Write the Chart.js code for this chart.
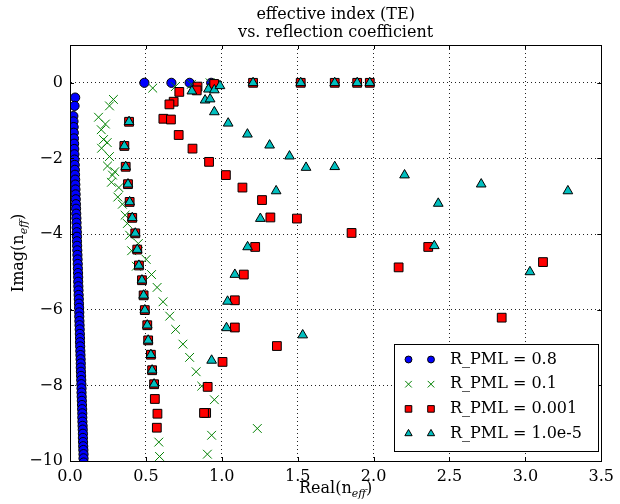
<!DOCTYPE html>
<html>
<head>
<meta charset="utf-8">
<script src="https://cdn.jsdelivr.net/npm/chart.js@4/dist/chart.umd.min.js"></script>
<style>
  html, body { margin: 0; padding: 0; background: #fff; }
  canvas { display: block; }
</style>
</head>
<body>
<canvas id="neff" width="620" height="504"></canvas>
<script>
// effective index eigenvalues for four PML reflection coefficients
const seriesLabels = ["R_PML = 0.8", "R_PML = 0.1", "R_PML = 0.001", "R_PML = 1.0e-5"];
const titleLines = ["effective index (TE)", "vs. reflection coefficient"];
const xTicks = [0, 0.5, 1, 1.5, 2, 2.5, 3, 3.5];
const yTicks = [-10, -8, -6, -4, -2, 0];

const real08 = [0.49, 0.668, 0.788, 0.93, 0.034, 0.030,
  0.022, 0.023, 0.024, 0.025, 0.026, 0.027, 0.028, 0.029, 0.030, 0.031,
  0.032, 0.033, 0.034, 0.035, 0.036, 0.037, 0.038, 0.039, 0.040, 0.041,
  0.042, 0.043, 0.044, 0.045, 0.046, 0.046, 0.047, 0.048, 0.049, 0.050,
  0.051, 0.052, 0.053, 0.054, 0.054, 0.055, 0.056, 0.057, 0.058, 0.059,
  0.060, 0.061, 0.061, 0.062, 0.063, 0.064, 0.065, 0.066, 0.066, 0.067,
  0.068, 0.069, 0.070, 0.071, 0.071, 0.072, 0.073, 0.074, 0.075, 0.076,
  0.076, 0.077, 0.078, 0.079, 0.080, 0.081, 0.081, 0.082, 0.083, 0.084,
  0.085, 0.085, 0.086, 0.087, 0.088, 0.089, 0.089, 0.090];
const imag08 = [0, 0, 0, 0, -0.39, -0.61,
  -0.88, -1.02, -1.17, -1.32, -1.47, -1.61, -1.75, -1.89, -2.03, -2.17,
  -2.30, -2.43, -2.56, -2.69, -2.82, -2.95, -3.08, -3.21, -3.33, -3.46,
  -3.58, -3.70, -3.83, -3.95, -4.07, -4.19, -4.31, -4.43, -4.55, -4.67,
  -4.79, -4.91, -5.03, -5.14, -5.26, -5.38, -5.49, -5.61, -5.72, -5.84,
  -5.95, -6.07, -6.18, -6.30, -6.41, -6.52, -6.64, -6.75, -6.86, -6.97,
  -7.09, -7.20, -7.31, -7.42, -7.53, -7.64, -7.75, -7.86, -7.97, -8.08,
  -8.19, -8.30, -8.41, -8.52, -8.63, -8.74, -8.85, -8.96, -9.07, -9.17,
  -9.28, -9.39, -9.50, -9.61, -9.71, -9.82, -9.93, -10.04];

const real01 = [0.545, 0.694, 0.80, 0.923,
  0.286, 0.26, 0.188, 0.233, 0.206, 0.221, 0.245, 0.208, 0.26, 0.247,
  0.295, 0.28, 0.273, 0.322, 0.315, 0.345, 0.363, 0.378, 0.393, 0.45,
  0.406, 0.502, 0.437, 0.537, 0.574, 0.613, 0.657, 0.696, 0.744, 0.788,
  0.831, 0.868, 0.951, 1.234, 0.933, 0.585, 0.59, 0.905];
const imag01 = [-0.14, -0.1, -0.04, 0,
  -0.44, -0.61, -0.91, -1.09, -1.24, -1.5, -1.58, -1.73, -1.95, -2.2,
  -2.35, -2.44, -2.63, -2.77, -3.02, -3.21, -3.5, -3.72, -4.03, -4.25,
  -4.44, -4.67, -4.85, -5.07, -5.41, -5.79, -6.17, -6.52, -6.91, -7.26,
  -7.64, -8.02, -8.38, -9.14, -9.32, -9.5, -9.88, -9.82];

const real0001 = [0.72, 0.84, 0.835, 0.95, 1.206, 1.52, 1.744, 1.892, 1.975,
  0.683, 0.655, 0.615, 0.665, 0.716, 0.807, 0.916, 1.027, 1.136, 1.265,
  1.32, 1.495, 1.855, 1.22, 2.36, 2.165, 3.116, 2.844, 1.145, 1.086,
  1.086, 1.363, 1.005, 0.907, 0.897, 0.883,
  0.389, 0.358, 0.367, 0.382, 0.393, 0.41, 0.43, 0.443, 0.454, 0.474,
  0.485, 0.493, 0.509, 0.515, 0.533, 0.541, 0.554, 0.559, 0.576, 0.572];
const imag0001 = [-0.24, -0.1, -0.2, -0.03, 0, 0, 0, 0, 0,
  -0.5, -0.57, -0.95, -0.97, -1.38, -1.74, -2.09, -2.44, -2.77, -3.1,
  -3.56, -3.59, -3.97, -4.34, -4.34, -4.88, -4.74, -6.21, -5.07, -5.75,
  -6.47, -6.96, -7.38, -8.04, -8.73, -8.73,
  -1.03, -1.67, -2.22, -2.68, -3.15, -3.57, -3.98, -4.41, -4.83, -5.22,
  -5.62, -6.01, -6.41, -6.81, -7.19, -7.6, -7.97, -8.36, -8.75, -9.12];

const real1e5 = [0.803, 0.912, 0.951, 0.988, 0.89, 0.923, 0.951, 1.042, 1.169,
  1.206, 1.52, 1.744, 1.892, 1.975,
  1.315, 1.446, 1.555, 1.744, 2.204, 1.358, 1.254, 2.426, 2.709, 3.28,
  2.40, 3.03, 1.17, 1.086, 1.038, 1.031, 1.533, 0.933,
  0.389, 0.358, 0.367, 0.382, 0.393, 0.41, 0.43, 0.443, 0.454, 0.474,
  0.485, 0.493, 0.509, 0.515, 0.533, 0.541, 0.554];
const imag1e5 = [-0.22, -0.17, -0.19, -0.08, -0.46, -0.43, -0.77, -1.07, -1.36,
  0, 0, 0, 0, 0,
  -1.65, -1.94, -2.24, -2.22, -2.44, -2.86, -3.59, -3.19, -2.68, -2.86,
  -4.31, -5.0, -4.34, -5.07, -5.78, -6.48, -6.67, -7.34,
  -1.03, -1.67, -2.22, -2.68, -3.15, -3.57, -3.98, -4.41, -4.83, -5.22,
  -5.62, -6.01, -6.41, -6.81, -7.19, -7.6, -7.97];

const toPoints = (xs, ys) => xs.map((x, i) => ({ x, y: ys[i] }));
const SERIF = '"DejaVu Serif", "Liberation Serif", serif';

const markers = [
  { pointStyle: "circle", radius: 4.6, fill: "#0000ff", edge: "#000000" },
  { pointStyle: "crossRot", radius: 6.2, fill: "#008000", edge: "#008000" },
  { pointStyle: "rect", radius: 6.2, fill: "#ff0000", edge: "#000000" },
  { pointStyle: "triangle", radius: 5.6, fill: "#00bfbf", edge: "#000000" },
];
const seriesData = [
  toPoints(real08, imag08),
  toPoints(real01, imag01),
  toPoints(real0001, imag0001),
  toPoints(real1e5, imag1e5),
];

// frame, inward ticks, titles with subscripts, and the boxed legend
const decorations = {
  id: "decorations",
  afterDraw(chart) {
    const { ctx, chartArea: a, scales } = chart;
    ctx.save();
    ctx.strokeStyle = "#000";
    ctx.lineWidth = 1;
    ctx.beginPath();
    scales.x.ticks.forEach(t => {
      const px = Math.round(scales.x.getPixelForValue(t.value)) + 0.5;
      ctx.moveTo(px, a.bottom); ctx.lineTo(px, a.bottom - 4);
      ctx.moveTo(px, a.top); ctx.lineTo(px, a.top + 4);
    });
    scales.y.ticks.forEach(t => {
      const py = Math.round(scales.y.getPixelForValue(t.value)) + 0.5;
      ctx.moveTo(a.left, py); ctx.lineTo(a.left + 4, py);
      ctx.moveTo(a.right, py); ctx.lineTo(a.right - 4, py);
    });
    ctx.stroke();
    ctx.strokeRect(Math.round(a.left) + 0.5, Math.round(a.top) + 0.5,
      Math.round(a.right - a.left), Math.round(a.bottom - a.top));

    const cx = (a.left + a.right) / 2;
    ctx.fillStyle = "#000";
    ctx.font = "16px " + SERIF;
    ctx.textAlign = "center";
    ctx.textBaseline = "alphabetic";
    ctx.fillText(titleLines[0], cx, 19);
    ctx.fillText(titleLines[1], cx, 37);

    // axis label with subscripted "eff"
    const subLabel = (pre, x, y) => {
      ctx.font = "16px " + SERIF;
      const w1 = ctx.measureText(pre).width;
      const w3 = ctx.measureText(")").width;
      ctx.font = "italic 11px " + SERIF;
      const w2 = ctx.measureText("eff").width;
      const start = x - (w1 + w2 + w3) / 2;
      ctx.textAlign = "left";
      ctx.font = "16px " + SERIF;
      ctx.fillText(pre, start, y);
      ctx.font = "italic 11px " + SERIF;
      ctx.fillText("eff", start + w1, y + 4);
      ctx.font = "16px " + SERIF;
      ctx.fillText(")", start + w1 + w2, y);
    };
    subLabel("Real(n", cx, 493);
    ctx.save();
    ctx.translate(23, (a.top + a.bottom) / 2);
    ctx.rotate(-Math.PI / 2);
    subLabel("Imag(n", 0, 0);
    ctx.restore();

    // legend
    const box = { left: 394.5, top: 344.5, w: 204, h: 107 };
    ctx.fillStyle = "#fff";
    ctx.fillRect(box.left, box.top, box.w, box.h);
    ctx.strokeStyle = "#000";
    ctx.lineWidth = 1;
    ctx.strokeRect(box.left, box.top, box.w, box.h);
    seriesLabels.forEach((label, i) => {
      const y = 359.5 + i * 24.7;
      const m = markers[i];
      [408.5, 431].forEach(x => {
        ctx.fillStyle = m.fill;
        ctx.strokeStyle = m.edge;
        ctx.lineWidth = 1;
        Chart.helpers.drawPoint(ctx, {
          pointStyle: m.pointStyle, radius: m.radius * 0.75, rotation: 0, borderWidth: 1
        }, x, y);
      });
      ctx.fillStyle = "#000";
      ctx.font = "16px " + SERIF;
      ctx.textAlign = "left";
      ctx.textBaseline = "middle";
      ctx.fillText(label, 450, y);
    });
    ctx.restore();
  }
};

new Chart(document.getElementById("neff"), {
  type: "scatter",
  data: {
    datasets: seriesData.map((pts, i) => ({
      label: seriesLabels[i],
      data: pts,
      order: 3 - i,
      clip: 0,
      pointStyle: markers[i].pointStyle,
      pointRadius: markers[i].radius,
      pointBackgroundColor: markers[i].fill,
      pointBorderColor: markers[i].edge,
      pointBorderWidth: 1,
    })),
  },
  options: {
    responsive: false,
    devicePixelRatio: 1,
    animation: false,
    events: [],
    layout: { padding: { top: 45, right: 14, left: 0, bottom: 0 } },
    plugins: { legend: { display: false }, title: { display: false }, tooltip: { enabled: false } },
    scales: {
      x: {
        type: "linear",
        min: xTicks[0],
        max: xTicks[xTicks.length - 1],
        afterFit: s => { s.height = 43; },
        afterBuildTicks: s => { s.ticks = xTicks.map(v => ({ value: v })); },
        grid: { color: "#222", lineWidth: 1, drawTicks: false },
        border: { display: true, color: "#000", dash: [1, 3] },
        ticks: {
          padding: 6,
          color: "#000",
          font: { family: SERIF, size: 16 },
          callback: v => Number(v).toFixed(1),
        },
      },
      y: {
        type: "linear",
        min: -10,
        max: 1,
        afterFit: s => { s.width = 70; },
        afterBuildTicks: s => { s.ticks = yTicks.map(v => ({ value: v })); },
        grid: { color: "#222", lineWidth: 1, drawTicks: false },
        border: { display: true, color: "#000", dash: [1, 3] },
        ticks: {
          padding: 7,
          color: "#000",
          font: { family: SERIF, size: 16 },
          callback: v => String(v).replace("-", "\u2212"),
        },
      },
    },
  },
  plugins: [decorations],
});
</script>
</body>
</html>
